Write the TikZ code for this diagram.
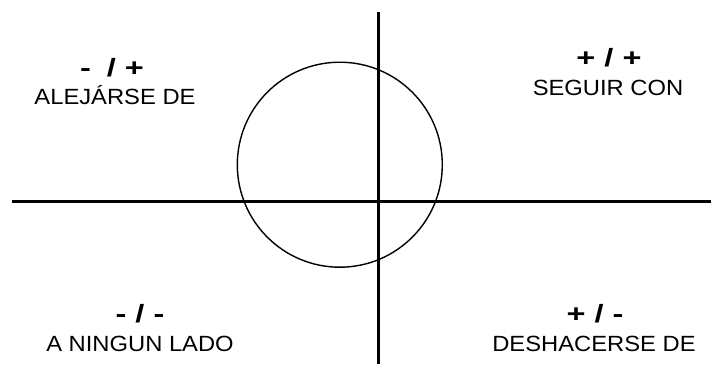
\documentclass[tikz,border=0pt]{standalone}
\usepackage{fontspec}
\newfontfamily\labfont[FakeStretch=1.08]{Liberation Sans}
\newfontfamily\signfont[FakeStretch=1.3]{Liberation Sans}
\begin{document}
\begin{tikzpicture}[x=1pt,y=-1pt,
  axis/.style={line width=3.6pt},
  ring/.style={line width=1.4pt},
  word/.style={anchor=base,inner sep=0pt,font=\labfont\fontsize{22}{26}\selectfont},
  sign/.style={anchor=base,inner sep=0pt,font=\signfont\bfseries\fontsize{25}{28}\selectfont}]
\useasboundingbox (0,0) rectangle (711,364);
\coordinate (hl) at (12,201.3);
\coordinate (hr) at (711,201.3);
\coordinate (vt) at (378.3,12);
\coordinate (vb) at (378.3,364);
\draw[axis] (hl) -- (hr);
\draw[axis] (vt) -- (vb);
\node[ring,draw,circle,minimum size=205pt,inner sep=0pt] (c) at (339.8,164.7) {};
\node[sign] (s1) at (112,76) {-\hspace{7pt} / +};
\node[word] (w1) at (115,104) {ALEJ\'{A}RSE DE};
\node[sign] (s2) at (609,66) {+ / +};
\node[word] (w2) at (608,95) {SEGUIR CON};
\node[sign] (s3) at (140,322) {- / -};
\node[word] (w3) at (140,351) {A NINGUN LADO};
\node[sign] (s4) at (595,322) {+ / -};
\node[word] (w4) at (594,351) {DESHACERSE DE};
\end{tikzpicture}
\end{document}
